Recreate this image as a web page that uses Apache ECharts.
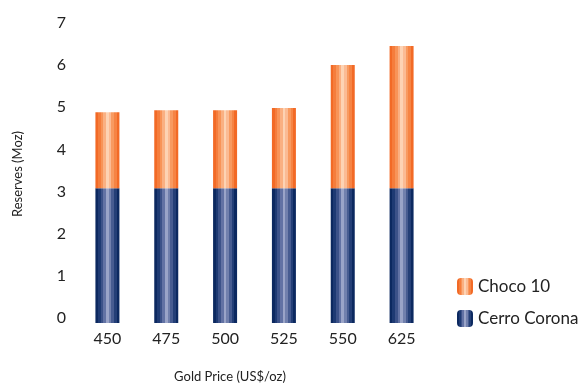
<!DOCTYPE html>
<html><head><meta charset="utf-8">
<script src="https://cdn.jsdelivr.net/npm/echarts@6/dist/echarts.min.js"></script>
<style>html,body{margin:0;padding:0;background:#fff}#c{width:583px;height:383px}</style>
</head><body><div id="c"></div>
<script>
const categories = ['450','475','500','525','550','625'];
const cerroCorona = [3.2, 3.2, 3.2, 3.2, 3.2, 3.2];
const choco10 = [1.8, 1.85, 1.85, 1.9, 2.92, 3.37];
const yTicks = [0,1,2,3,4,5,6,7];

function stripes(cols){
  const n = cols.length, stops = [];
  for (let i=0;i<n;i++){ stops.push({offset:i/n,color:cols[i]}); stops.push({offset:(i+1)/n,color:cols[i]}); }
  return {type:'linear',x:0,y:0,x2:1,y2:0,colorStops:stops};
}
const orange = stripes(['#f26a26','#f57d3c','#f89458','#fab082','#fdd3b4','#fbbb94','#f89a60','#f68444','#f26a26']);
const navy = stripes(['#0c2960','#1e3a73','#3c5289','#6272a4','#9aa4c8','#7180ad','#475c91','#243f77','#0c2960']);
const font = 'Lato, "Open Sans", sans-serif';

const chart = echarts.init(document.getElementById('c'), null, {renderer:'canvas'});
chart.setOption({
  animation:false,
  textStyle:{fontFamily:font},
  grid:{left:78, width:353, top:28, bottom:60},
  legend:{
    orient:'vertical', left:452, top:273, itemWidth:16, itemHeight:17, itemGap:15,
    data:['Choco 10','Cerro Corona'],
    textStyle:{fontSize:17, color:'#222', fontFamily:font}
  },
  xAxis:{type:'category', data:categories, axisLine:{show:false}, axisTick:{show:false},
    axisLabel:{fontSize:16, color:'#222', margin:8}},
  yAxis:{type:'value', min:yTicks[0], max:yTicks[yTicks.length-1], interval:1, splitLine:{show:false},
    axisLine:{show:false}, axisTick:{show:false},
    axisLabel:{fontSize:16, color:'#222', margin:12, verticalAlign:'bottom', lineHeight:10}},
  graphic:[
    {type:'text', x:230, y:377, style:{text:'Gold Price (US$/oz)', font:'13px '+font, fill:'#222', align:'center', verticalAlign:'middle'}},
    {type:'text', x:18, y:174, rotation:Math.PI/2, style:{text:'Reserves (Moz)', font:'13px '+font, fill:'#222', align:'center', verticalAlign:'middle'}}
  ],
  series:[
    {name:'Cerro Corona', type:'bar', stack:'r', data:cerroCorona, barWidth:24, itemStyle:{color:navy}},
    {name:'Choco 10', type:'bar', stack:'r', data:choco10, barWidth:24, itemStyle:{color:orange}}
  ]
});
</script></body></html>
